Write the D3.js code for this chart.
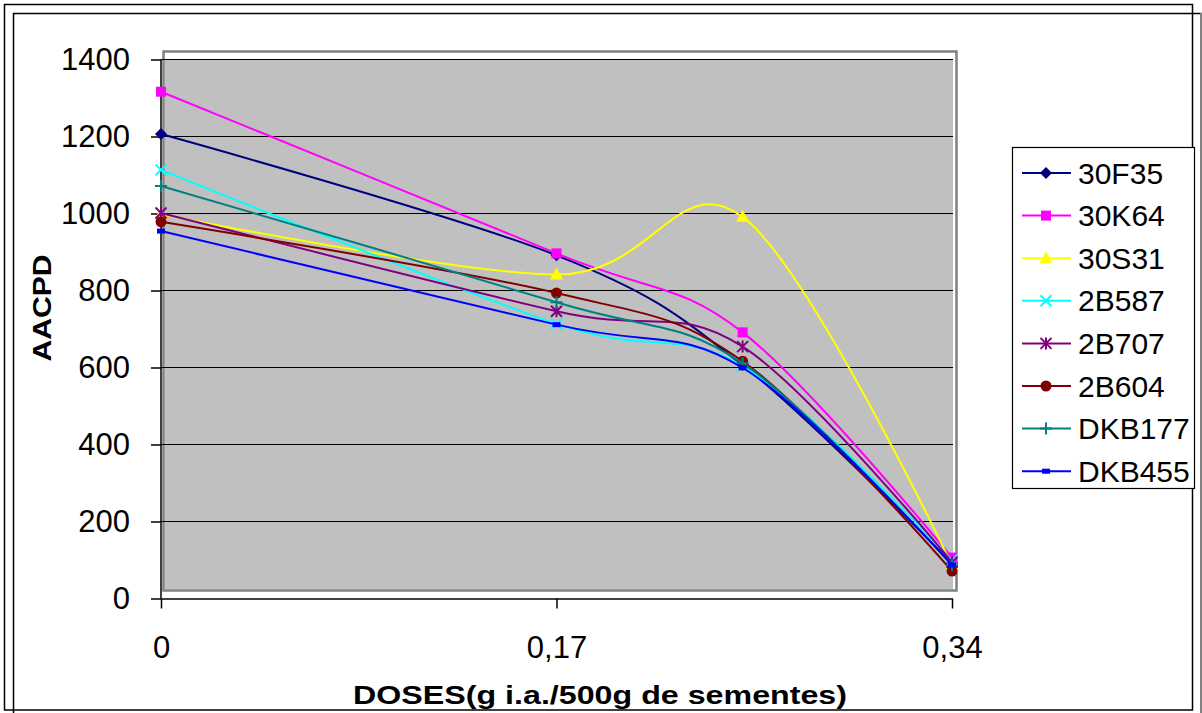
<!DOCTYPE html>
<html>
<head>
<meta charset="utf-8">
<script src="https://cdn.jsdelivr.net/npm/d3@7/dist/d3.min.js"></script>
<style>
body { margin: 0; background: #fff; }
text { font-family: "Liberation Sans", Arial, sans-serif; }
</style>
</head>
<body>
<svg width="1202" height="713"></svg>
<script>
// doses on the x axis (g i.a./500g)
var doses = [0, 0.17, 0.25, 0.34];
var xTicks = [0, 0.17, 0.34];
var yTicks = [0, 200, 400, 600, 800, 1000, 1200, 1400];

// AACPD per hybrid
var names = ["30F35", "30K64", "30S31", "2B587", "2B707", "2B604", "DKB177", "DKB455"];
var v30F35 = [1205, 890, 605, 90];
var v30K64 = [1315, 895, 690, 105];
var v30S31 = [997, 840, 990, 85];
var v2B587 = [1112, 712, 602, 98];
var v2B707 = [1000, 745, 653, 93];
var v2B604 = [977, 792, 615, 70];
var vDKB177 = [1070, 768, 610, 85];
var vDKB455 = [953, 710, 598, 86];
var colors = ["#000080", "#FF00FF", "#FFFF00", "#00FFFF", "#800080", "#800000", "#008080", "#0000FF"];
var shapes = ["diamond", "square", "triangle", "x", "star", "circle", "plus", "dash"];

var allValues = [v30F35, v30K64, v30S31, v2B587, v2B707, v2B604, vDKB177, vDKB455];

var svg = d3.select("svg");

// chart frames
svg.append("rect").attr("x", 4.5).attr("y", 4.5).attr("width", 1188).attr("height", 705.5)
    .attr("fill", "none").attr("stroke", "#000").attr("stroke-width", 1.5);
svg.append("rect").attr("x", 13.5).attr("y", 13.5).attr("width", 1187.5).attr("height", 710)
    .attr("fill", "none").attr("stroke", "#000").attr("stroke-width", 1.5);
svg.append("line").attr("x1", 1201).attr("x2", 1201).attr("y1", 13).attr("y2", 713)
    .attr("stroke", "#999").attr("stroke-width", 1.5);

var x = d3.scaleLinear().domain([0, 0.34]).range([161, 952]);
var y = d3.scaleLinear().domain([0, 1400]).range([598, 59]);

// plot area
svg.append("rect").attr("x", 163.5).attr("y", 51.5).attr("width", 793).attr("height", 539)
    .attr("fill", "#fff").attr("stroke", "#808080").attr("stroke-width", 2.5);
svg.append("rect").attr("x", 165).attr("y", y(1400)).attr("width", 788).attr("height", 589 - y(1400))
    .attr("fill", "#C0C0C0");

// gridlines
svg.append("g").selectAll("line")
    .data(yTicks.filter(function (d) { return d > 0; }))
    .enter().append("line")
    .attr("x1", x(0)).attr("x2", 953)
    .attr("y1", function (d) { return y(d) + 0.5; })
    .attr("y2", function (d) { return y(d) + 0.5; })
    .attr("stroke", "#000").attr("stroke-width", 1.2);

function fmt(d) { return String(d).replace(".", ","); }

var gY = svg.append("g").attr("transform", "translate(" + x(0) + ",0.5)")
    .call(d3.axisLeft(y).tickValues(yTicks).tickSize(10).tickSizeOuter(0).tickPadding(21).tickFormat(fmt));
var gX = svg.append("g").attr("transform", "translate(0," + (y(0) + 0.5) + ")")
    .call(d3.axisBottom(x).tickValues(xTicks).tickSize(10).tickSizeOuter(0).tickPadding(27).tickFormat(fmt));
[gY, gX].forEach(function (g) {
    g.selectAll("path, line").attr("stroke", "#000").attr("stroke-width", 1.5);
    g.selectAll("text").attr("fill", "#000").style("font-size", "31px")
        .style("font-family", "'Liberation Sans', Arial, sans-serif");
});
gY.select(".domain").attr("d", "M0," + y(1400) + "V" + y(0));

// axis titles
svg.append("text").attr("x", 600).attr("y", 704).attr("text-anchor", "middle")
    .attr("font-weight", "bold").style("font-size", "26px")
    .attr("textLength", 494).attr("lengthAdjust", "spacingAndGlyphs")
    .text("DOSES(g i.a./500g de sementes)");
svg.append("text").attr("transform", "translate(51,308) rotate(-90)").attr("text-anchor", "middle")
    .attr("font-weight", "bold").style("font-size", "26px")
    .attr("textLength", 107).attr("lengthAdjust", "spacingAndGlyphs")
    .text("AACPD");

// marker drawing
function drawMarker(g, shape, color, cx, cy) {
    var m = g.append("g").attr("transform", "translate(" + cx + "," + cy + ")");
    if (shape === "diamond") {
        m.append("path").attr("d", "M0,-6L6,0L0,6L-6,0Z").attr("fill", color);
    } else if (shape === "square") {
        m.append("rect").attr("x", -5).attr("y", -5).attr("width", 10).attr("height", 10).attr("fill", color);
    } else if (shape === "triangle") {
        m.append("path").attr("d", "M0,-7L6.5,5L-6.5,5Z").attr("fill", color);
    } else if (shape === "x") {
        m.append("path").attr("d", "M-5.5,-5.5L5.5,5.5M5.5,-5.5L-5.5,5.5").attr("stroke", color).attr("stroke-width", 2);
    } else if (shape === "star") {
        m.append("path").attr("d", "M-5.5,-5.5L5.5,5.5M5.5,-5.5L-5.5,5.5M0,-6V6").attr("stroke", color).attr("stroke-width", 2);
    } else if (shape === "circle") {
        m.append("circle").attr("r", 5.5).attr("fill", color);
    } else if (shape === "plus") {
        m.append("path").attr("d", "M-6,0H6M0,-6V6").attr("stroke", color).attr("stroke-width", 2);
    } else if (shape === "dash") {
        m.append("rect").attr("x", -4).attr("y", -2.5).attr("width", 8).attr("height", 5).attr("fill", color);
    }
}

var line = d3.line()
    .x(function (d) { return x(d[0]); })
    .y(function (d) { return y(d[1]); })
    .curve(d3.curveCardinal.tension(0));

var plot = svg.append("g");
allValues.forEach(function (vals, i) {
    var pts = doses.map(function (d, j) { return [d, vals[j]]; });
    plot.append("path").datum(pts).attr("d", line)
        .attr("fill", "none").attr("stroke", colors[i]).attr("stroke-width", 2);
    pts.forEach(function (p) { drawMarker(plot, shapes[i], colors[i], x(p[0]), y(p[1])); });
});

// legend
var leg = svg.append("g");
leg.append("rect").attr("x", 1012.5).attr("y", 147.5).attr("width", 182).attr("height", 341)
    .attr("fill", "#fff").attr("stroke", "#000").attr("stroke-width", 1.2);
names.forEach(function (n, i) {
    var cy = 173 + i * 42.6;
    leg.append("line").attr("x1", 1022).attr("x2", 1071).attr("y1", cy).attr("y2", cy)
        .attr("stroke", colors[i]).attr("stroke-width", 2);
    drawMarker(leg, shapes[i], colors[i], 1046, cy);
    leg.append("text").attr("x", 1078).attr("y", cy + 10.5).style("font-size", "30px")
        .attr("fill", "#000").text(n);
});
</script>
</body>
</html>
